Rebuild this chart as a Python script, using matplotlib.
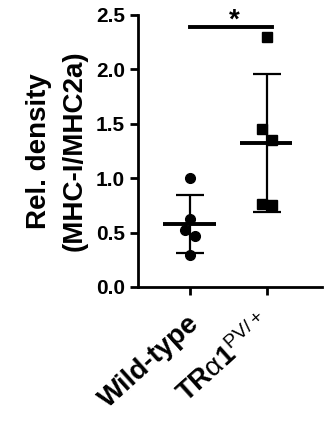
import numpy as np
import matplotlib
matplotlib.use('Agg')
import matplotlib.pyplot as plt
import matplotlib.transforms as mtransforms

plt.rcParams['font.family'] = ['Liberation Sans', 'DejaVu Sans']
plt.rcParams['mathtext.fontset'] = 'custom'
plt.rcParams['mathtext.rm'] = 'Liberation Sans'
plt.rcParams['mathtext.bf'] = 'Liberation Sans:bold'
plt.rcParams['mathtext.it'] = 'Liberation Sans:italic'

groups = ['Wild-type', r'$\mathbf{TR}\mathrm{\alpha}\mathbf{1}^{\mathrm{PV/+}}$']
wt = [1.0, 0.62, 0.52, 0.47, 0.29]
wt_off = [0, 0, -0.07, 0.07, 0]
tr = [2.30, 1.45, 1.35, 0.76, 0.75]
tr_off = [0, -0.07, 0.07, -0.07, 0.07]
yticks = [0.0, 0.5, 1.0, 1.5, 2.0, 2.5]

fig = plt.figure(figsize=(3.25, 4.22), dpi=100)
ax = fig.add_axes([0.425, 0.32, 0.565, 0.645])

for i, (vals, offs, mk) in enumerate([(wt, wt_off, 'o'), (tr, tr_off, 's')]):
    vals = np.array(vals)
    ax.plot(i + np.array(offs), vals, mk, color='black', ms=7, zorder=3)
    m = vals.mean()
    sd = vals.std(ddof=1)
    ax.plot([i - 0.35, i + 0.33], [m, m], color='black', lw=2.8, solid_capstyle='butt')
    ax.errorbar(i, m, yerr=sd, color='black', lw=1.6, capsize=10, capthick=1.6)

# significance bracket
ax.plot([0, 1.07], [2.39, 2.39], color='black', lw=2.8, clip_on=False)
ax.text(0.58, 2.33, '*', ha='center', va='bottom', fontsize=20, fontweight='bold')

ax.set_xlim(-0.675, 1.71)
ax.set_ylim(0, 2.5)
ax.set_yticks(yticks)
ax.set_yticklabels([f'{t:.1f}' for t in yticks], fontsize=15, fontweight='bold')
ax.set_xticks([0, 1])
ax.set_xticklabels(groups, fontsize=20, fontweight='bold', rotation=42,
                   ha='right', va='center', rotation_mode='anchor')
ax.set_ylabel('Rel. density\n(MHC-I/MHC2a)', fontsize=20, fontweight='bold',
              linespacing=1.45, labelpad=6)
for s in ['top', 'right']:
    ax.spines[s].set_visible(False)
for s in ['left', 'bottom']:
    ax.spines[s].set_linewidth(2)
ax.tick_params(width=2, length=6)
ax.tick_params(axis='x', pad=18)

# nudge the wild-type label a little to the right
shift = mtransforms.ScaledTranslation(4 / 72, 0, fig.dpi_scale_trans)
lbl = ax.get_xticklabels()[0]
lbl.set_transform(lbl.get_transform() + shift)

fig.savefig('out.png', dpi=100)
